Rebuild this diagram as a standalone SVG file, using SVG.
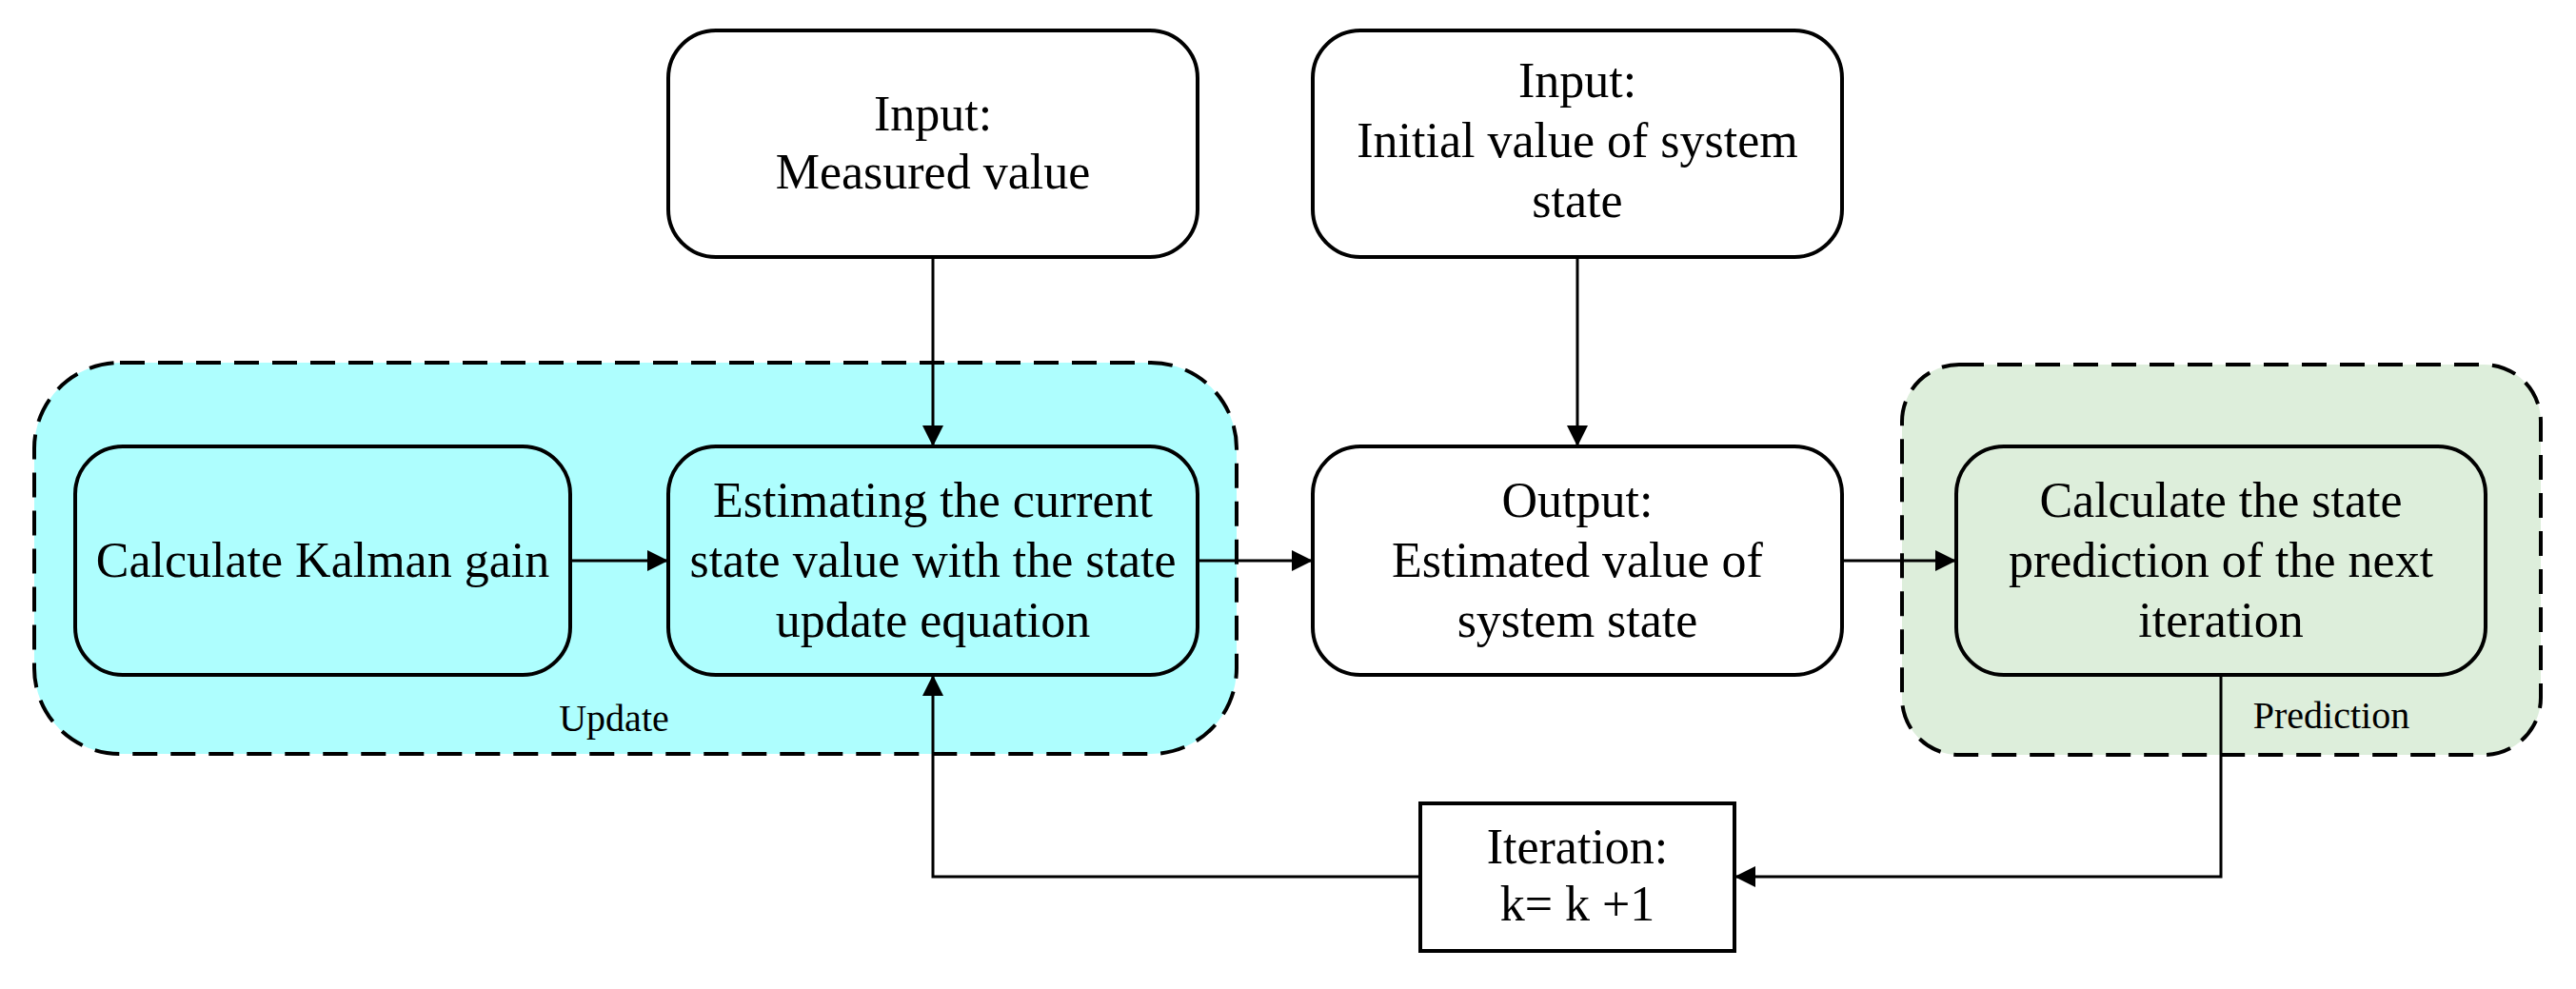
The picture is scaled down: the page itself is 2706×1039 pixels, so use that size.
<svg xmlns="http://www.w3.org/2000/svg" width="2706" height="1039" viewBox="0 0 2706 1039">
<style>
text{font-family:"Liberation Serif","Times New Roman",serif;font-size:52px;fill:#000;text-anchor:middle}
.sm{font-size:40px}
.box{fill:#fff;stroke:#000;stroke-width:4}
.in{stroke:#000;stroke-width:4}
.grp{stroke:#000;stroke-width:4;stroke-dasharray:26 14}
.c{fill:none;stroke:#000;stroke-width:3}
</style>
<defs>
<marker id="ah" viewBox="0 0 10 10" refX="10" refY="5" markerWidth="22" markerHeight="24" orient="auto" markerUnits="userSpaceOnUse"><path d="M0,0L10,5L0,10z" fill="#000"/></marker></defs>
<g id="update-group"><rect x="36" y="381" width="1263" height="411" rx="90" fill="#aefefe" class="grp"/><text class="sm" x="645" y="768">Update</text></g>
<g id="prediction-group"><rect x="1998" y="383" width="671" height="410" rx="60" fill="#ddeedb" class="grp"/><text class="sm" x="2449" y="765">Prediction</text></g>
<g id="input-measured"><rect class="box" x="702" y="32" width="556" height="238" rx="50"/><text x="980" y="137">Input:</text><text x="980" y="198">Measured value</text></g>
<g id="input-initial"><rect class="box" x="1379" y="32" width="556" height="238" rx="50"/><text x="1657" y="102">Input:</text><text x="1657" y="165">Initial value of system</text><text x="1657" y="228">state</text></g>
<g id="kalman"><rect class="in" fill="#aefefe" x="79" y="469" width="520" height="240" rx="50"/><text x="339" y="606">Calculate Kalman gain</text></g>
<g id="estimate"><rect class="in" fill="#aefefe" x="702" y="469" width="556" height="240" rx="50"/><text x="980" y="543">Estimating the current</text><text x="980" y="606">state value with the state</text><text x="980" y="669">update equation</text></g>
<g id="output"><rect class="box" x="1379" y="469" width="556" height="240" rx="50"/><text x="1657" y="543">Output:</text><text x="1657" y="606">Estimated value of</text><text x="1657" y="669">system state</text></g>
<g id="predict"><rect class="in" fill="#ddeedb" x="2055" y="469" width="556" height="240" rx="50"/><text x="2333" y="543">Calculate the state</text><text x="2333" y="606">prediction of the next</text><text x="2333" y="669">iteration</text></g>
<g id="iteration"><rect class="box" x="1492" y="844" width="330" height="155"/><text x="1657" y="907">Iteration:</text><text x="1657" y="967">k= k +1</text></g>
<g id="connectors">
<path class="c" d="M980,270V469" marker-end="url(#ah)"/>
<path class="c" d="M1657,270V469" marker-end="url(#ah)"/>
<path class="c" d="M599,589H702" marker-end="url(#ah)"/>
<path class="c" d="M1258,589H1379" marker-end="url(#ah)"/>
<path class="c" d="M1935,589H2055" marker-end="url(#ah)"/>
<path class="c" d="M2333,709V921H1822" marker-end="url(#ah)"/>
<path class="c" d="M1492,921H980V709" marker-end="url(#ah)"/>
</g>
</svg>
